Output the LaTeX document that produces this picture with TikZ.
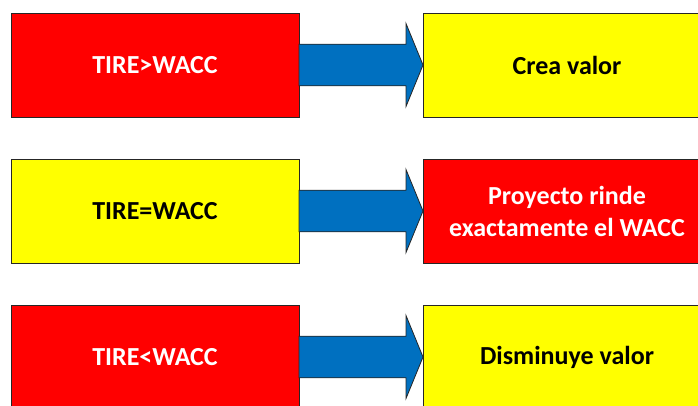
\documentclass[tikz,border=0pt]{standalone}
\usepackage{fontspec}
\setmainfont{Carlito}
\usetikzlibrary{calc}
\definecolor{boxred}{RGB}{255,0,0}
\definecolor{boxyellow}{RGB}{255,255,0}
\definecolor{arrowblue}{RGB}{0,112,192}
\tikzset{
  box/.style={draw=black!85, line width=0.9pt, minimum width=288pt, minimum height=104pt,
    inner sep=0pt, outer sep=0pt, anchor=north west, align=center,
    font=\fontsize{26}{32}\selectfont\bfseries},
  redbox/.style={box, fill=boxred, text=white},
  yellowbox/.style={box, fill=boxyellow, text=black},
  fatarrow/.style={fill=arrowblue, draw=black!85, line width=0.8pt, line join=miter},
}
\newcommand{\blockarrow}[2]{%
  \path[fatarrow] ($(#1.east)+(0,-20.8)$) -- ($(#2.west)+(-17,-20.8)$)
    -- ($(#2.west)+(-17,-41.5)$) -- (#2.west) -- ($(#2.west)+(-17,41.5)$)
    -- ($(#2.west)+(-17,20.8)$) -- ($(#1.east)+(0,20.8)$) -- cycle;}
\begin{document}
\begin{tikzpicture}[x=1pt,y=-1pt]
\useasboundingbox (0,0) rectangle (698,405);
\clip (0,0) rectangle (698,405);
\node[redbox]    (L1) at (11,13)  {TIRE>WACC};
\node[yellowbox] (R1) at (423,13) {Crea valor};
\node[yellowbox] (L2) at (11,159) {TIRE=WACC};
\node[redbox]    (R2) at (423,159) {Proyecto rinde\\exactamente el WACC};
\node[redbox]    (L3) at (11,305) {TIRE<WACC};
\node[yellowbox] (R3) at (423,305) {Disminuye valor};
\blockarrow{L1}{R1}
\blockarrow{L2}{R2}
\blockarrow{L3}{R3}
\end{tikzpicture}
\end{document}
